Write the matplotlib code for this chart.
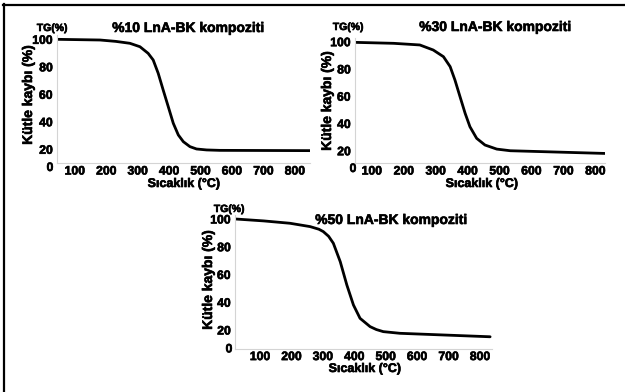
import matplotlib
matplotlib.use("Agg")
import matplotlib.pyplot as plt
from matplotlib.lines import Line2D
import matplotlib.patheffects as pe

plt.rcParams['font.family'] = ['Liberation Sans', 'DejaVu Sans']
plt.rcParams['font.weight'] = 'bold'

# ---- data ----
temp_10 = [43, 180, 230, 275, 307, 333, 349, 365, 381, 397, 413, 429, 445, 466, 487, 519, 561, 848]
mass_10 = [100, 99.5, 98.5, 97.1, 94.6, 89.8, 85, 75.3, 63, 51, 38.9, 30.4, 25.5, 21.9, 20.2, 19.5, 19.2, 19]

temp_30 = [48, 168, 250, 292, 324, 345, 360, 376, 392, 407, 428, 454, 491, 533, 638, 832]
mass_30 = [99.5, 98.8, 97.6, 93.9, 89, 81.7, 71.9, 59.6, 47.4, 37.6, 29.1, 24.2, 21.2, 20, 19.3, 18]

temp_50 = [20, 111, 195, 259, 287, 301, 318, 333, 355, 376, 397, 418, 450, 470, 492, 545, 694, 832]
mass_50 = [100, 98.6, 96.9, 94.5, 92.6, 90.9, 87.5, 82.5, 69.2, 52.4, 38, 28.4, 22.4, 20.3, 18.8, 17.6, 16.3, 15.1]

titles = ["%10 LnA-BK kompoziti", "%30 LnA-BK kompoziti", "%50 LnA-BK kompoziti"]
x_ticks = [100, 200, 300, 400, 500, 600, 700, 800]
y_ticks = [20, 40, 60, 80, 100]
x_label = "Sıcaklık (°C)"
y_label = "Kütle kaybı (%)"
tg_label = "TG(%)"

W, H = 625, 392
fig = plt.figure(figsize=(W / 100, H / 100), dpi=100)
fig.patch.set_facecolor('white')

heavy = [pe.withStroke(linewidth=0.45, foreground='black')]


def rect(l, r, t, b):
    return [l / W, 1 - b / H, (r - l) / W, (b - t) / H]


def fx(px):
    return px / W


def fy(py):
    return 1 - py / H


panels = [
    dict(temps=temp_10, mass=mass_10, title=titles[0], rect=rect(57, 310, 35.2, 163),
         xlim=(43, 848), ylim=(10, 103), title_xy=(188, 28), tg_xy=(52, 28),
         ylab_xy=(28, 95), xlab_xy=(184, 184), zero_off=(-7, -5), xpad=1.8),
    dict(temps=temp_30, mass=mass_30, title=titles[1], rect=rect(355, 605, 37.6, 163),
         xlim=(47, 830), ylim=(11, 103), title_xy=(495, 27), tg_xy=(348, 27),
         ylab_xy=(327, 101), xlab_xy=(482, 184), zero_off=(-2, -6), xpad=1.8),
    dict(temps=temp_50, mass=mass_50, title=titles[2], rect=rect(235, 492, 214.8, 349.4),
         xlim=(20, 838), ylim=(6, 103), title_xy=(391, 220), tg_xy=(229, 209),
         ylab_xy=(208, 280), xlab_xy=(365, 369), zero_off=(-6, 0), xpad=1.2),
]

for p in panels:
    ax = fig.add_axes(p['rect'])
    ax.plot(p['temps'], p['mass'], color='black', lw=2.0,
            solid_capstyle='round', solid_joinstyle='round')
    ax.set_xlim(*p['xlim'])
    ax.set_ylim(*p['ylim'])
    ax.set_xticks(x_ticks)
    ax.set_yticks(y_ticks)
    ax.tick_params(axis='y', length=0, labelsize=8.8, pad=3)
    ax.tick_params(axis='x', length=0, labelsize=8.8, pad=p['xpad'])
    for lab in ax.get_xticklabels() + ax.get_yticklabels():
        lab.set_fontweight('bold')
        lab.set_path_effects(heavy)
    for s in ['top', 'right']:
        ax.spines[s].set_visible(False)
    for s in ['left', 'bottom']:
        ax.spines[s].set_color('#d4d4d4')
        ax.spines[s].set_linewidth(0.8)
    ax.annotate("0", xy=(0, 0), xycoords='axes fraction',
                xytext=(p['zero_off'][0] * 0.72, p['zero_off'][1] * 0.72),
                textcoords='offset points', ha='center', va='center',
                fontsize=8.8, fontweight='bold', path_effects=heavy)
    fig.text(fx(p['title_xy'][0]), fy(p['title_xy'][1]), p['title'],
             ha='center', va='center', fontsize=10, fontweight='bold', path_effects=heavy)
    fig.text(fx(p['tg_xy'][0]), fy(p['tg_xy'][1]), tg_label,
             ha='center', va='center', fontsize=7.5, fontweight='bold', path_effects=heavy)
    fig.text(fx(p['ylab_xy'][0]), fy(p['ylab_xy'][1]), y_label, rotation=90,
             ha='center', va='center', fontsize=10, fontweight='bold', path_effects=heavy)
    fig.text(fx(p['xlab_xy'][0]), fy(p['xlab_xy'][1]), x_label,
             ha='center', va='center', fontsize=9, fontweight='bold', path_effects=heavy)

# partial frame (top and left edges)
fig.add_artist(Line2D([fx(3), 1], [fy(5), fy(5)], color='black', lw=1.6,
                      transform=fig.transFigure))
fig.add_artist(Line2D([fx(4), fx(4)], [fy(4), 0], color='black', lw=1.6,
                      transform=fig.transFigure))

fig.savefig("out.png", dpi=100, facecolor='white')
